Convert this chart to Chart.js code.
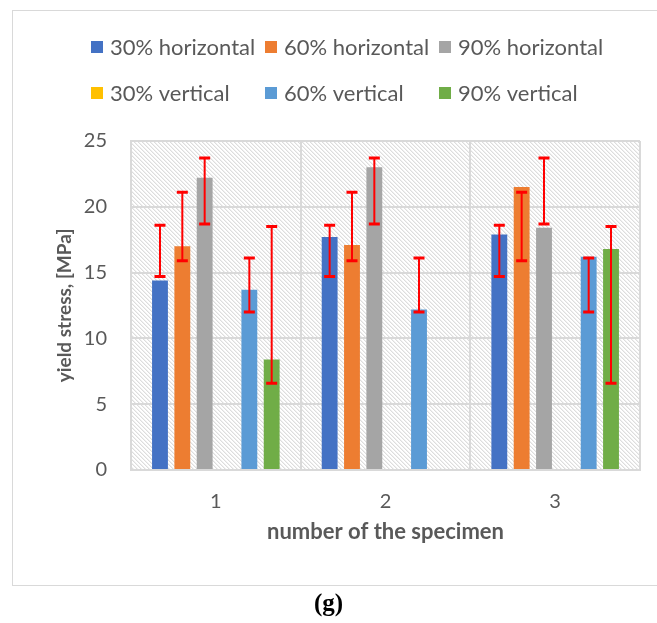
<!DOCTYPE html>
<html>
<head>
<meta charset="utf-8">
<script src="https://cdn.jsdelivr.net/npm/chart.js@4.4.1/dist/chart.umd.min.js"></script>
<style>
  html, body { margin: 0; padding: 0; background: #fff; }
  #frame { position: absolute; left: 12px; top: 10px; width: 660px; height: 574px; border: 1.5px solid #d9d9d9; }
  #wrap { position: absolute; left: 0; top: 0; width: 657px; height: 590px; }
  #caption { position: absolute; left: 0; width: 657px; top: 589px; text-align: center;
             font: bold 25px "Liberation Serif", serif; color: #000; }
</style>
</head>
<body>
<div id="frame"></div>
<div id="wrap"><canvas id="chart" width="657" height="590"></canvas></div>
<div id="caption">(g)</div>
<script>
// yield stress per specimen
const specimens = ['1', '2', '3'];
const yTicks = [0, 5, 10, 15, 20, 25];

const h30 = [14.4, 17.7, 17.9];
const h60 = [17.0, 17.1, 21.5];
const h90 = [22.2, 23.0, 18.4];
const v30 = [null, null, null];
const v60 = [13.7, 12.2, 16.2];
const v90 = [8.4, null, 16.8];

// error bar ends (low / high)
const h30Low = [14.7, 14.7, 14.7], h30High = [18.6, 18.6, 18.6];
const h60Low = [15.9, 15.9, 15.9], h60High = [21.1, 21.1, 21.1];
const h90Low = [18.7, 18.7, 18.7], h90High = [23.7, 23.7, 23.7];
const v30Low = [null, null, null], v30High = [null, null, null];
const v60Low = [12.0, 12.0, 12.0], v60High = [16.1, 16.1, 16.1];
const v90Low = [6.6, null, 6.6],   v90High = [18.5, null, 18.5];

const FONT = 'Lato';
const TXT = '#595959';

function series(label, data, color, lo, hi) {
  return { label, data, backgroundColor: color, errLow: lo, errHigh: hi,
           categoryPercentage: 0.79, barPercentage: 0.71 };
}

// diagonal hatch behind the plot
function hatchPattern(ctx) {
  const c = document.createElement('canvas');
  c.width = 4; c.height = 4;
  const g = c.getContext('2d');
  g.fillStyle = '#ffffff';
  g.fillRect(0, 0, 4, 4);
  for (let i = 0; i < 4; i++) {
    g.fillStyle = '#dddddd';
    g.fillRect(i, i, 1, 1);
    g.fillStyle = '#f0f0f0';
    g.fillRect((i + 1) % 4, i, 1, 1);
  }
  return ctx.createPattern(c, 'repeat');
}

const hatch = {
  id: 'hatch',
  beforeDraw(chart) {
    const {ctx, chartArea: a} = chart;
    ctx.save();
    ctx.fillStyle = hatchPattern(ctx);
    ctx.fillRect(a.left, a.top, a.right - a.left, a.bottom - a.top);
    ctx.restore();
  }
};

const errorBars = {
  id: 'errorBars',
  afterDatasetsDraw(chart) {
    const ctx = chart.ctx;
    const y = chart.scales.y;
    ctx.save();
    ctx.strokeStyle = '#ff0000';
    chart.data.datasets.forEach((ds, i) => {
      const meta = chart.getDatasetMeta(i);
      ds.errLow.forEach((lo, j) => {
        const hi = ds.errHigh[j];
        if (lo == null || hi == null) return;
        const x = meta.data[j].x;
        const yl = y.getPixelForValue(lo);
        const yh = y.getPixelForValue(hi);
        ctx.lineWidth = 2;
        ctx.beginPath();
        ctx.moveTo(x, yl);
        ctx.lineTo(x, yh);
        ctx.stroke();
        ctx.lineWidth = 3;
        ctx.beginPath();
        ctx.moveTo(x - 5.5, yl); ctx.lineTo(x + 5.5, yl);
        ctx.moveTo(x - 5.5, yh); ctx.lineTo(x + 5.5, yh);
        ctx.stroke();
      });
    });
    ctx.restore();
  }
};

// legend laid out in a 3-column grid like the original
const gridLegend = {
  id: 'gridLegend',
  afterDraw(chart) {
    const ctx = chart.ctx;
    ctx.save();
    ctx.font = '22px ' + FONT;
    ctx.textBaseline = 'middle';
    ctx.textAlign = 'left';
    chart.data.datasets.forEach((ds, i) => {
      const col = i % 3, row = Math.floor(i / 3);
      const x = 91 + col * 174;
      const y = 47 + row * 46;
      ctx.fillStyle = ds.backgroundColor;
      ctx.fillRect(x, y - 6, 12, 12);
      ctx.fillStyle = TXT;
      ctx.fillText(ds.label, x + 19, y + 1);
    });
    ctx.restore();
  }
};

const chart = new Chart(document.getElementById('chart'), {
  type: 'bar',
  data: {
    labels: specimens,
    datasets: [
      series('30% horizontal', h30, '#4472C4', h30Low, h30High),
      series('60% horizontal', h60, '#ED7D31', h60Low, h60High),
      series('90% horizontal', h90, '#A5A5A5', h90Low, h90High),
      series('30% vertical', v30, '#FFC000', v30Low, v30High),
      series('60% vertical', v60, '#5B9BD5', v60Low, v60High),
      series('90% vertical', v90, '#70AD47', v90Low, v90High)
    ]
  },
  options: {
    responsive: false,
    animation: false,
    devicePixelRatio: 1,
    layout: { padding: { left: 0, top: 141, right: 17, bottom: 0 } },
    plugins: { legend: { display: false }, tooltip: { enabled: false } },
    scales: {
      x: {
        grid: { color: '#d9d9d9', lineWidth: 2, drawTicks: false },
        border: { color: '#d9d9d9', width: 2 },
        ticks: { color: TXT, font: { family: FONT, size: 20 }, padding: 20 },
        title: { display: true, text: 'number of the specimen', color: TXT,
                 font: { family: FONT, size: 22, weight: 'bold' }, padding: { top: 0, bottom: 45 } },
        afterFit(s) { s.height = 120; }
      },
      y: {
        min: 0, max: 25,
        afterBuildTicks(s) { s.ticks = yTicks.map(v => ({ value: v })); },
        grid: { color: '#d9d9d9', lineWidth: 2, drawTicks: false },
        border: { color: '#d9d9d9', width: 2 },
        ticks: { color: TXT, font: { family: FONT, size: 20 }, padding: 24 },
        title: { display: true, text: 'yield stress, [MPa]', color: TXT,
                 font: { family: FONT, size: 19, weight: 'bold' }, padding: { top: 53, bottom: 0 } },
        afterFit(s) { s.width = 131; }
      }
    }
  },
  plugins: [hatch, errorBars, gridLegend]
});
</script>
</body>
</html>
